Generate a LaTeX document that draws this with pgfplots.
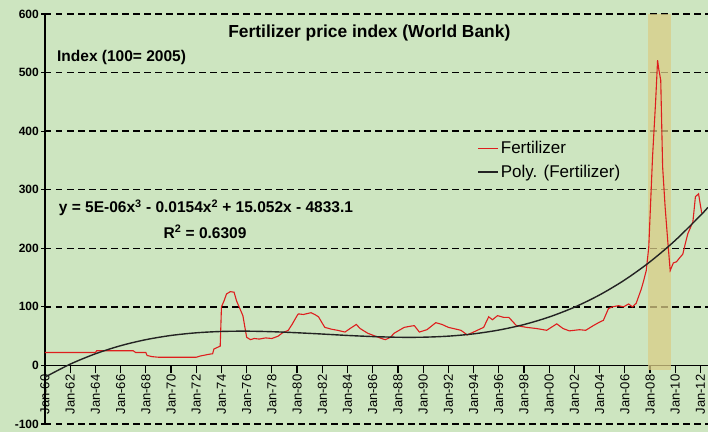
\documentclass[border=0pt]{standalone}
\usepackage{pgfplots}
\pgfplotsset{compat=1.18}
\usepackage{fontspec}
\setmainfont{Liberation Sans}
\definecolor{bg}{RGB}{205,229,192}
\definecolor{band}{RGB}{218,205,135}
\definecolor{fred}{RGB}{222,30,30}
\definecolor{poly}{RGB}{35,35,35}
\begin{document}
\begin{tikzpicture}
\path[fill=bg,use as bounding box] (-45pt,-8pt) rectangle (663pt,424pt);
\begin{axis}[
  scale only axis, width=663pt, height=410pt,
  xmin=1960, xmax=2012.6, ymin=-100, ymax=600,
  axis x line=middle, axis y line=left,
  axis line style={-, line width=1.2pt, black},
  hide obscured x ticks=false, hide obscured y ticks=false,
  xtick={1960,1962,...,2012},
  xticklabels={Jan-60,Jan-62,Jan-64,Jan-66,Jan-68,Jan-70,Jan-72,Jan-74,Jan-76,Jan-78,Jan-80,Jan-82,Jan-84,Jan-86,Jan-88,Jan-90,Jan-92,Jan-94,Jan-96,Jan-98,Jan-00,Jan-02,Jan-04,Jan-06,Jan-08,Jan-10,Jan-12},
  ytick={-100,0,...,600},
  yticklabels={-100,0,100,200,300,400,500,600},
  xtick align=outside, ytick align=center,
  major tick length=8pt,
  tick style={black, line width=1.2pt},
  xticklabel style={rotate=90, anchor=east, font=\fontsize{13}{13}\selectfont, inner sep=1pt},
  yticklabel style={font=\bfseries\fontsize{12}{12}\selectfont, inner sep=2pt},
  ymajorgrids,
  major grid style={black, dash pattern=on 6.5pt off 4.5pt, line width=1.3pt},
  legend style={at={(0.652,0.695)}, anchor=north west, draw=none, fill=none,
    font=\fontsize{17}{20}\selectfont, inner sep=0pt, row sep=6pt},
  legend cell align=left,
  legend image code/.code={\draw[#1] (0pt,0pt) -- (20pt,0pt);},
  clip=false,
]
\addplot[fill=band, draw=none, fill opacity=0.75, forget plot] coordinates {(2007.8,-8) (2009.7,-8) (2009.7,600) (2007.8,600)} -- cycle;
\addplot[fred, line width=1.1pt] coordinates {
(1960.0,22) (1961,22) (1962,22) (1963,22) (1964.0,22) (1964.1,25) (1965,25) (1966,25) (1967.0,25) (1967.2,22) (1968.0,22) (1968.1,17) (1968.5,15) (1969,14) (1970,14) (1971,14) (1972,14) (1972.3,16) (1973,19) (1973.3,20) (1973.4,28) (1973.7,31) (1973.9,33)
(1974.0,100) (1974.2,110) (1974.4,122) (1974.7,126) (1975.0,125) (1975.2,110) (1975.4,100) (1975.7,85) (1975.9,60) (1976.0,48) (1976.3,44) (1976.6,46) (1977,45) (1977.5,47) (1978,46) (1978.5,50) (1978.8,55) (1979.3,60) (1979.6,70) (1980.0,85) (1980.1,88) (1980.5,87) (1981.1,90) (1981.4,87) (1981.7,83) (1982.0,72) (1982.2,65) (1982.7,62) (1983.2,60) (1983.8,57) (1984.2,63) (1984.7,70) (1985.0,63) (1985.6,55) (1986.2,50) (1986.7,46) (1987.0,44) (1987.4,48) (1987.7,55) (1988.1,60) (1988.5,65) (1989.0,67) (1989.3,68) (1989.7,57) (1990.3,61) (1991.0,73) (1991.5,70) (1992,65) (1993.0,60) (1993.5,52) (1994,57) (1994.8,65) (1995.2,83) (1995.5,78) (1995.9,85) (1996.4,82) (1996.8,82) (1997.4,68) (1998.2,65) (1999.0,63) (1999.8,60) (2000.6,71) (2001.1,63) (2001.6,59) (2002.4,61) (2002.9,60) (2003.5,68) (2004.0,74) (2004.3,77) (2004.7,97) (2005.0,100) (2005.5,102) (2005.9,100) (2006.3,105) (2006.6,100) (2006.9,106) (2007.3,130) (2007.5,145) (2007.7,162) (2007.9,202) (2008.2,356) (2008.45,453) (2008.6,521) (2008.7,505) (2008.85,487) (2009.0,339) (2009.2,270) (2009.4,214) (2009.6,162) (2009.85,175) (2010.1,177) (2010.4,185) (2010.6,190) (2010.8,208) (2011.0,225) (2011.4,245) (2011.6,288) (2011.85,293) (2012.1,260)
};
\addlegendentry{Fertilizer}
\addplot[poly, line width=1.4pt, smooth] coordinates {
(1960,-20) (1962,2.2) (1964,19.9) (1966,33.7) (1968,44.0) (1970,51.2) (1972,55.7) (1974,58.0) (1976,58.5) (1978,57.6) (1980,55.8) (1982,53.6) (1984,51.2) (1986,49.3) (1988,48.1) (1990,48.2) (1992,50.0) (1994,53.9) (1996,60.4) (1998,69.8) (2000,82.7) (2002,99.4) (2004,120.4) (2006,146.1) (2008,177.0) (2010,213.5) (2012,256) (2012.6,270.0)
};
\addlegendentry{Poly. (Fertilizer)}
\node[font=\bfseries\fontsize{17.4}{17.4}\selectfont] at (axis cs:1985.73,567.5) {Fertilizer price index (World Bank)};
\node[font=\bfseries\fontsize{15.5}{15.5}\selectfont, anchor=west, inner sep=0pt] at (axis cs:1960.95,525) {Index (100= 2005)};
\node[font=\bfseries\fontsize{15.5}{15.5}\selectfont] at (axis cs:1972.77,268.7) {y = 5E-06x\textsuperscript{3} - 0.0154x\textsuperscript{2} + 15.052x - 4833.1};
\node[font=\bfseries\fontsize{15.5}{15.5}\selectfont] at (axis cs:1972.7,228) {R\textsuperscript{2} = 0.6309};
\end{axis}
\end{tikzpicture}
\end{document}
